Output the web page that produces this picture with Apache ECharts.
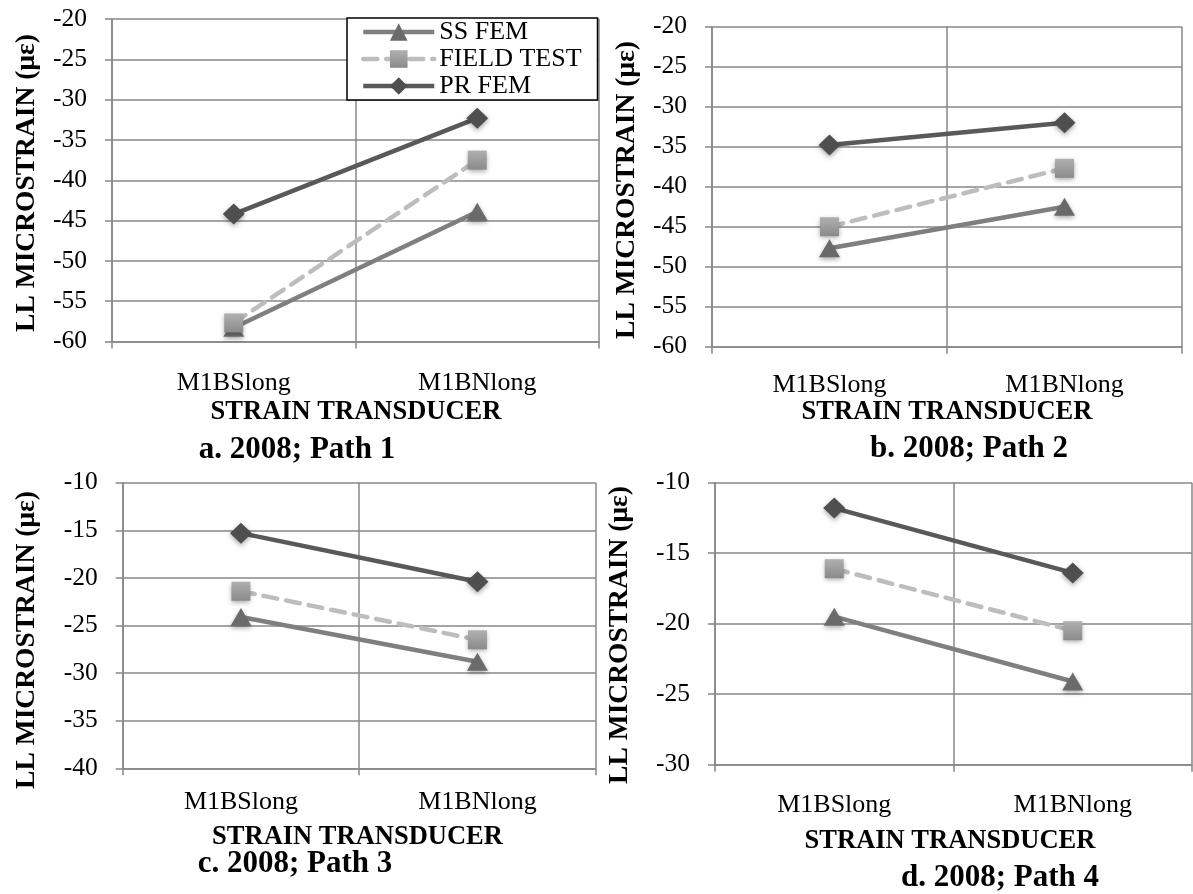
<!DOCTYPE html>
<html>
<head>
<meta charset="utf-8">
<script src="https://cdn.jsdelivr.net/npm/echarts@6/dist/echarts.min.js"></script>
<style>
html,body{margin:0;padding:0;background:#fff;}
#chart{width:1193px;height:894px;}
</style>
</head>
<body>
<div id="chart"></div>
<script>
// ---- data ----
var categories = ['M1BSlong', 'M1BNlong'];
var seriesNames = ['SS FEM', 'FIELD TEST', 'PR FEM'];

var ssA = [-58.3, -43.9];
var fieldA = [-57.7, -37.5];
var prA = [-44.2, -32.3];

var ssB = [-47.7, -42.5];
var fieldB = [-45.0, -37.7];
var prB = [-34.8, -32.0];

var ssC = [-24.1, -28.8];
var fieldC = [-21.4, -26.5];
var prC = [-15.3, -20.4];

var ssD = [-19.5, -24.1];
var fieldD = [-16.1, -20.5];
var prD = [-11.8, -16.4];

var yMin = [-60, -60, -40, -30];
var yMax = [-20, -20, -10, -10];
var yStep = 5;

var panelTitles = ['a. 2008; Path 1', 'b. 2008; Path 2', 'c. 2008; Path 3', 'd. 2008; Path 4'];
var yTitle = 'LL MICROSTRAIN (με)';
var xTitle = 'STRAIN TRANSDUCER';

// ---- layout ----
var FONT = '"Liberation Serif", "Times New Roman", serif';
var grids = [
  {left: 112, top: 19, width: 487, height: 322.5},
  {left: 712, top: 26.7, width: 470, height: 320},
  {left: 122.7, top: 482.7, width: 473, height: 285.6},
  {left: 715, top: 482.7, width: 477, height: 282}
];
var labelMargins = [29, 25, 21, 27];
var yTitlePos = [[27, 183], [627, 190], [27, 640], [620, 635]];
var xTitlePos = [[356, 412], [947, 412], [357.5, 837], [950, 841]];
var subTitlePos = [[297, 450], [969, 449], [295, 864], [1000, 878]];

var panelData = [
  [ssA, fieldA, prA],
  [ssB, fieldB, prB],
  [ssC, fieldC, prC],
  [ssD, fieldD, prD]
];

var gridColor = '#878787';

var xAxes = [], yAxes = [], series = [], graphics = [];
for (var i = 0; i < 4; i++) {
  xAxes.push({
    type: 'category', gridIndex: i, data: categories, boundaryGap: true,
    axisLine: {show: true, lineStyle: {color: gridColor, width: 1.5}},
    axisTick: {show: true, length: 7, inside: false, lineStyle: {color: gridColor, width: 1.5}},
    axisLabel: {show: true, margin: labelMargins[i], color: '#000', fontFamily: FONT, fontSize: 26},
    splitLine: {show: true, lineStyle: {color: gridColor, width: 1.5}}
  });
  yAxes.push({
    type: 'value', gridIndex: i, min: yMin[i], max: yMax[i], interval: yStep,
    axisLine: {show: true, lineStyle: {color: gridColor, width: 1.5}},
    axisTick: {show: true, length: 7, inside: false, lineStyle: {color: gridColor, width: 1.5}},
    axisLabel: {show: true, margin: 25, color: '#000', fontFamily: FONT, fontSize: 25.5},
    splitLine: {show: true, lineStyle: {color: gridColor, width: 1.5}}
  });
  var d = panelData[i];
  series.push({
    name: seriesNames[0], type: 'line', xAxisIndex: i, yAxisIndex: i, data: d[0],
    symbol: 'triangle', symbolSize: [21, 18],
    lineStyle: {color: '#7f7f7f', width: 4.5},
    itemStyle: {color: '#6a6a6a', shadowBlur: 5, shadowColor: 'rgba(0,0,0,0.35)', shadowOffsetY: 2},
    z: 2, animation: false
  });
  series.push({
    name: seriesNames[1], type: 'line', xAxisIndex: i, yAxisIndex: i, data: d[1],
    symbol: 'rect', symbolSize: 19,
    lineStyle: {color: '#bdbdbd', width: 4.5, type: [14, 9], cap: 'round'},
    itemStyle: {
      color: new echarts.graphic.LinearGradient(0, 0, 0, 1, [
        {offset: 0, color: '#b0b0b0'}, {offset: 1, color: '#8a8a8a'}
      ]),
      shadowBlur: 5, shadowColor: 'rgba(0,0,0,0.35)', shadowOffsetY: 2
    },
    z: 3, animation: false
  });
  series.push({
    name: seriesNames[2], type: 'line', xAxisIndex: i, yAxisIndex: i, data: d[2],
    symbol: 'diamond', symbolSize: [22, 21],
    lineStyle: {color: '#595959', width: 4.5},
    itemStyle: {color: '#4f4f4f', shadowBlur: 5, shadowColor: 'rgba(0,0,0,0.35)', shadowOffsetY: 2},
    z: 4, animation: false
  });

  graphics.push({
    type: 'text', x: yTitlePos[i][0], y: yTitlePos[i][1], rotation: Math.PI / 2,
    style: {text: yTitle, font: 'bold 27.5px ' + FONT, fill: '#000', align: 'center', verticalAlign: 'middle'}
  });
  graphics.push({
    type: 'text', x: xTitlePos[i][0], y: xTitlePos[i][1],
    style: {text: xTitle, font: 'bold 26.5px ' + FONT, fill: '#000', align: 'center', verticalAlign: 'middle'}
  });
  graphics.push({
    type: 'text', x: subTitlePos[i][0], y: subTitlePos[i][1],
    style: {text: panelTitles[i], font: 'bold 31px ' + FONT, fill: '#000', align: 'center', verticalAlign: 'middle'}
  });
}

var chart = echarts.init(document.getElementById('chart'), null, {renderer: 'canvas'});
chart.setOption({
  backgroundColor: '#fff',
  animation: false,
  grid: grids,
  xAxis: xAxes,
  yAxis: yAxes,
  legend: {
    data: seriesNames, orient: 'vertical', left: 347, top: 18,
    backgroundColor: '#fff', borderColor: '#000', borderWidth: 1.5,
    padding: [1, 16, 1, 14], itemGap: 1, itemWidth: 71, itemHeight: 22,
    lineStyle: {width: 4.5},
    textStyle: {fontFamily: FONT, fontSize: 26, color: '#000'},
    selectedMode: false
  },
  series: series,
  graphic: graphics
});
</script>
</body>
</html>
